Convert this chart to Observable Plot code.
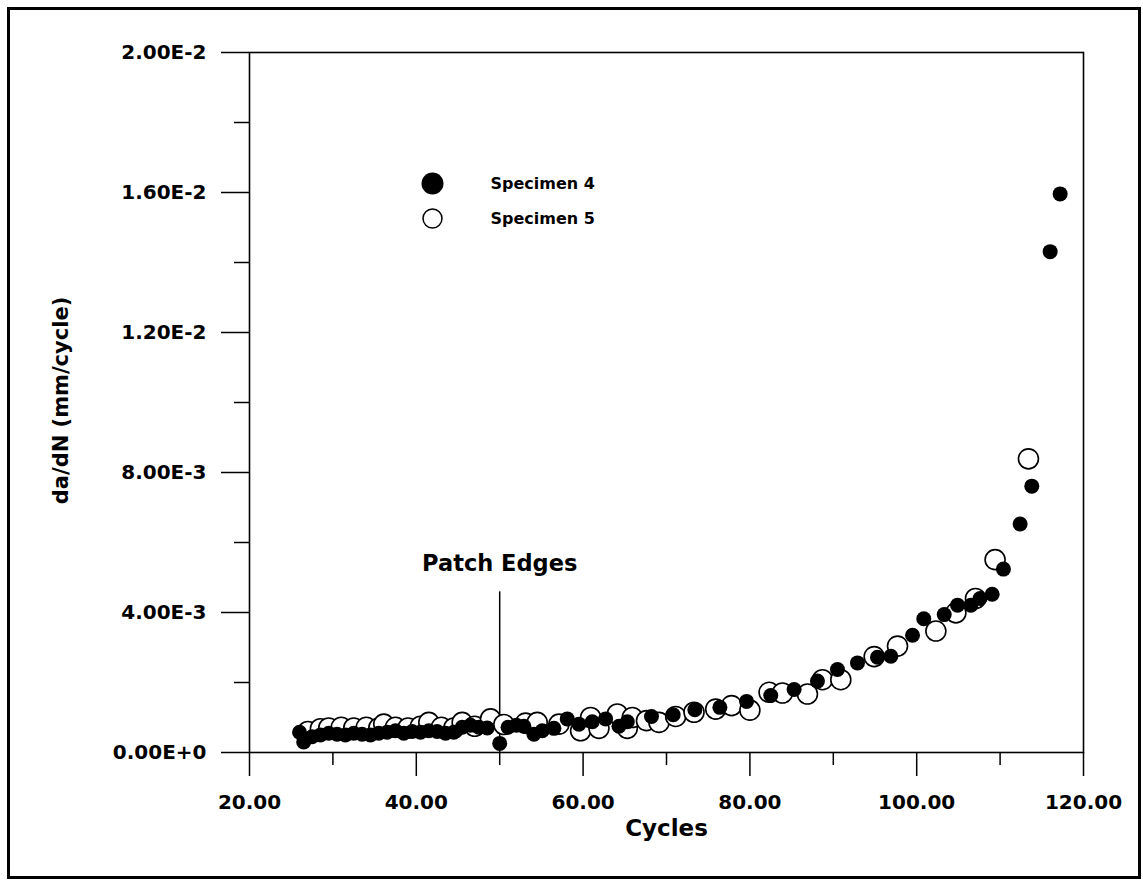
<!DOCTYPE html>
<html>
<head>
<meta charset="utf-8">
<script src="https://cdn.jsdelivr.net/npm/d3@7"></script>
<script src="https://cdn.jsdelivr.net/npm/@observablehq/plot@0.6"></script>
<style>
  html, body { margin: 0; padding: 0; background: #fff; }
  #wrap { position: relative; width: 1143px; height: 884px; overflow: hidden; }
  #border { position: absolute; left: 7px; top: 7px; width: 1134px; height: 872px; box-sizing: border-box; border: 3px solid #000; pointer-events: none; }
  #chart { position: absolute; left: 0; top: 0; }
</style>
</head>
<body>
<div id="wrap"><div id="chart"></div><div id="border"></div></div>
<script>
// Specimen 4 (filled circles)
const spec4Cycles = [26.0, 26.5, 27.5, 28.5, 29.5, 30.5, 31.5, 32.5, 33.5, 34.5, 35.5, 36.5, 37.5, 38.5, 39.5, 40.5, 41.5, 42.5, 43.5, 44.5, 45.5, 46.5, 47.5, 48.5, 50.0, 51.0, 52.0, 52.9, 54.1, 55.1, 56.5, 58.1, 59.5, 61.1, 62.7, 64.3, 65.3, 68.2, 70.8, 73.4, 76.4, 79.6, 82.5, 85.3, 88.1, 90.5, 92.9, 95.3, 96.9, 99.5, 100.85, 103.3, 104.9, 106.5, 107.6, 109.05, 110.4, 112.4, 113.8, 116.0, 117.2];
const spec4Rate = [0.00058, 0.00030, 0.00045, 0.00050, 0.00055, 0.00052, 0.00050, 0.00055, 0.00052, 0.00050, 0.00055, 0.00058, 0.00062, 0.00055, 0.00060, 0.00058, 0.00062, 0.00060, 0.00055, 0.00058, 0.00072, 0.00078, 0.00072, 0.00070, 0.00026, 0.00072, 0.00078, 0.00075, 0.00052, 0.00062, 0.00069, 0.00096, 0.00081, 0.00088, 0.00096, 0.00075, 0.00088, 0.00103, 0.00108, 0.00122, 0.00129, 0.00146, 0.00163, 0.00180, 0.00204, 0.00237, 0.00256, 0.00272, 0.00275, 0.00335, 0.00382, 0.00394, 0.00421, 0.00421, 0.00440, 0.00452, 0.00524, 0.00653, 0.00761, 0.01431, 0.01596];

// Specimen 5 (open circles)
const spec5Cycles = [27.0, 28.5, 29.5, 31.0, 32.5, 34.0, 35.5, 36.1, 37.5, 39.0, 40.5, 41.5, 43.0, 44.5, 45.5, 47.0, 48.9, 50.5, 53.1, 54.5, 57.1, 59.7, 60.9, 61.9, 64.1, 65.3, 65.9, 67.6, 69.1, 71.1, 73.3, 75.9, 77.8, 80.0, 82.3, 83.9, 86.9, 88.7, 90.9, 94.9, 97.7, 102.3, 104.7, 107.05, 109.4, 113.4];
const spec5Rate = [0.00060, 0.00068, 0.00070, 0.00072, 0.00070, 0.00072, 0.00070, 0.00081, 0.00072, 0.00070, 0.00075, 0.00086, 0.00072, 0.00070, 0.00086, 0.00075, 0.00096, 0.00080, 0.00084, 0.00086, 0.00081, 0.00062, 0.00100, 0.00069, 0.00110, 0.00069, 0.00100, 0.00091, 0.00086, 0.00103, 0.00115, 0.00124, 0.00134, 0.00121, 0.00172, 0.00170, 0.00167, 0.00208, 0.00208, 0.00274, 0.00304, 0.00347, 0.00399, 0.00440, 0.00551, 0.00839];

// Axes
const xTicks = [20, 40, 60, 80, 100, 120];
const xTickLabels = ["20.00", "40.00", "60.00", "80.00", "100.00", "120.00"];
const xMinorTicks = [30, 50, 70, 90, 110];
const yTicks = [0, 0.004, 0.008, 0.012, 0.016, 0.02];
const yTickLabels = ["0.00E+0", "4.00E-3", "8.00E-3", "1.20E-2", "1.60E-2", "2.00E-2"];
const yMinorTicks = [0.002, 0.006, 0.010, 0.014, 0.018];

// Annotation
const patchEdgeCycle = 50;
const patchEdgeTop = 0.00459;
const patchLabel = "Patch Edges";
const seriesNames = ["Specimen 4", "Specimen 5"];
const xTitle = "Cycles";
const yTitle = "da/dN (mm/cycle)";

const s4 = spec4Cycles.map((c, i) => ({cycles: c, rate: spec4Rate[i]}));
const s5 = spec5Cycles.map((c, i) => ({cycles: c, rate: spec5Rate[i]}));

const FL = 249, FT = 52;
const font = "DejaVu Sans";

const chart = Plot.plot({
  width: 1143,
  height: 884,
  marginLeft: 249,
  marginRight: 60,
  marginTop: 52,
  marginBottom: 132,
  style: {fontFamily: font, fontWeight: "bold", background: "transparent", color: "#000"},
  x: {domain: [20, 120]},
  y: {domain: [0, 0.02]},
  marks: [
    Plot.frame({stroke: "#000", strokeWidth: 1.6}),
    Plot.axisX({ticks: xTicks, tickSize: 24, tickPadding: 18, tickFormat: (d, i) => xTickLabels[i], fontSize: 20, label: null, strokeWidth: 1.5}),
    Plot.axisX({ticks: xMinorTicks, tickSize: 13, text: null, label: null, strokeWidth: 1.5}),
    Plot.axisY({ticks: yTicks, tickSize: 28, tickPadding: 15, tickFormat: (d, i) => yTickLabels[i], fontSize: 20, label: null, strokeWidth: 1.5}),
    Plot.axisY({ticks: yMinorTicks, tickSize: 15, text: null, label: null, strokeWidth: 1.5}),
    Plot.ruleX([patchEdgeCycle], {y1: 0, y2: patchEdgeTop, stroke: "#000", strokeWidth: 1.5}),
    Plot.text([patchLabel], {x: patchEdgeCycle, y: 0.0052, text: d => d, fontSize: 22.5, fontWeight: "bold", lineAnchor: "bottom", textAnchor: "middle", fill: "#000"}),
    Plot.dot(s5, {x: "cycles", y: "rate", r: 10, fill: "#fff", stroke: "#000", strokeWidth: 1.6}),
    Plot.dot(s4, {x: "cycles", y: "rate", r: 7.5, fill: "#000", stroke: "none"}),
    // legend
    Plot.dot([0], {frameAnchor: "top-left", dx: 432 - FL, dy: 183 - FT, r: 11, fill: "#000"}),
    Plot.dot([0], {frameAnchor: "top-left", dx: 432 - FL, dy: 218 - FT, r: 9.5, fill: "#fff", stroke: "#000", strokeWidth: 1.5}),
    Plot.text([seriesNames[0]], {frameAnchor: "top-left", dx: 490 - FL, dy: 183 - FT, text: d => d, textAnchor: "start", lineAnchor: "middle", fontSize: 16, fontWeight: "bold", fill: "#000"}),
    Plot.text([seriesNames[1]], {frameAnchor: "top-left", dx: 490 - FL, dy: 218 - FT, text: d => d, textAnchor: "start", lineAnchor: "middle", fontSize: 16, fontWeight: "bold", fill: "#000"}),
    // axis titles
    Plot.text([xTitle], {frameAnchor: "bottom", dy: 76, text: d => d, fontSize: 23, fontWeight: "bold", lineAnchor: "middle", textAnchor: "middle", fill: "#000"}),
    Plot.text([yTitle], {frameAnchor: "left", dx: 61 - FL, dy: -2, rotate: -90, text: d => d, fontSize: 21, fontWeight: "bold", lineAnchor: "middle", textAnchor: "middle", fill: "#000"})
  ]
});
document.getElementById("chart").appendChild(chart);
</script>
</body>
</html>
